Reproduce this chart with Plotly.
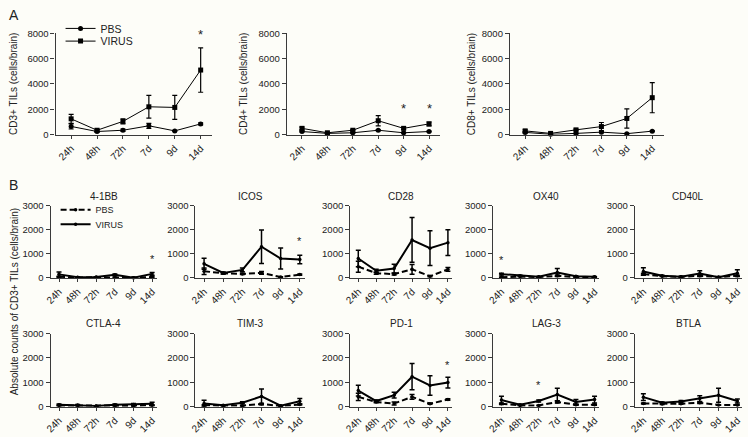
import plotly.graph_objects as go

W, H = 748, 437

times = ["24h", "48h", "72h", "7d", "9d", "14d"]

# ---- Panel A (mean, error) ----
cd3_pbs = [650, 250, 350, 700, 300, 850]
cd3_pbs_err = [200, 50, 100, 200, 50, 80]
cd3_virus = [1250, 350, 1050, 2200, 2150, 5100]
cd3_virus_err = [350, 100, 200, 900, 950, 1750]

cd4_pbs = [250, 100, 150, 350, 150, 250]
cd4_pbs_err = [50, 30, 40, 60, 30, 40]
cd4_virus = [500, 150, 350, 1100, 500, 850]
cd4_virus_err = [100, 50, 50, 400, 80, 150]

cd8_pbs = [180, 30, 100, 200, 80, 280]
cd8_pbs_err = [50, 20, 30, 40, 20, 40]
cd8_virus = [300, 100, 380, 640, 1280, 2920]
cd8_virus_err = [80, 40, 60, 320, 760, 1190]

# ---- Panel B (mean, error) ----
bb41_pbs = [50, 20, 30, 20, 10, 40]
bb41_pbs_err = [20, 10, 10, 10, 5, 20]
bb41_virus = [150, 30, 40, 130, 10, 170]
bb41_virus_err = [100, 15, 15, 40, 10, 60]

icos_pbs = [280, 195, 170, 210, 40, 140]
icos_pbs_err = [140, 30, 30, 60, 10, 30]
icos_virus = [590, 210, 335, 1300, 810, 770]
icos_virus_err = [230, 40, 80, 700, 440, 180]

cd28_pbs = [470, 200, 160, 360, 70, 360]
cd28_pbs_err = [230, 40, 40, 200, 20, 80]
cd28_virus = [810, 300, 390, 1580, 1240, 1470]
cd28_virus_err = [340, 60, 180, 930, 720, 540]

ox40_pbs = [30, 60, 40, 90, 40, 40]
ox40_pbs_err = [10, 10, 10, 30, 10, 10]
ox40_virus = [160, 90, 50, 230, 70, 50]
ox40_virus_err = [40, 20, 10, 160, 20, 10]

cd40l_pbs = [160, 70, 50, 90, 40, 90]
cd40l_pbs_err = [40, 10, 10, 30, 10, 20]
cd40l_virus = [270, 90, 50, 190, 30, 200]
cd40l_virus_err = [160, 20, 10, 110, 10, 140]

ctla4_pbs = [50, 50, 20, 40, 40, 60]
ctla4_pbs_err = [10, 10, 5, 10, 10, 20]
ctla4_virus = [80, 70, 30, 80, 90, 120]
ctla4_virus_err = [30, 20, 10, 30, 40, 60]

tim3_pbs = [60, 40, 40, 110, 30, 90]
tim3_pbs_err = [20, 10, 10, 30, 10, 20]
tim3_virus = [130, 60, 160, 420, 40, 220]
tim3_virus_err = [130, 20, 40, 300, 10, 110]

pd1_pbs = [400, 190, 130, 400, 120, 290]
pd1_pbs_err = [150, 30, 60, 100, 20, 30]
pd1_virus = [660, 230, 470, 1230, 870, 990]
pd1_virus_err = [220, 40, 120, 540, 400, 220]

lag3_pbs = [120, 50, 50, 190, 80, 80]
lag3_pbs_err = [30, 10, 10, 40, 20, 20]
lag3_virus = [270, 80, 230, 500, 190, 290]
lag3_virus_err = [160, 20, 40, 260, 100, 140]

btla_pbs = [130, 110, 120, 160, 70, 70]
btla_pbs_err = [20, 20, 20, 30, 10, 10]
btla_virus = [390, 160, 210, 330, 470, 230]
btla_virus_err = [140, 30, 40, 120, 290, 80]

a_titles = ["CD3+ TILs (cells/brain)", "CD4+ TILs (cells/brain)", "CD8+ TILs (cells/brain)"]
b_titles = ["4-1BB", "ICOS", "CD28", "OX40", "CD40L", "CTLA-4", "TIM-3", "PD-1", "LAG-3", "BTLA"]
a_yticks = [0, 2000, 4000, 6000, 8000]
b_yticks = [0, 1000, 2000, 3000]

# significance stars: (panel index, time, y value)
stars = [(0, "14d", 7900), (1, "9d", 2100), (1, "14d", 2100),
         (3, "14d", 800), (4, "14d", 1540), (6, "24h", 730),
         (10, "14d", 1700), (11, "72h", 870)]

a_data = [(cd3_pbs, cd3_pbs_err, cd3_virus, cd3_virus_err),
          (cd4_pbs, cd4_pbs_err, cd4_virus, cd4_virus_err),
          (cd8_pbs, cd8_pbs_err, cd8_virus, cd8_virus_err)]
b_data = [(bb41_pbs, bb41_pbs_err, bb41_virus, bb41_virus_err),
          (icos_pbs, icos_pbs_err, icos_virus, icos_virus_err),
          (cd28_pbs, cd28_pbs_err, cd28_virus, cd28_virus_err),
          (ox40_pbs, ox40_pbs_err, ox40_virus, ox40_virus_err),
          (cd40l_pbs, cd40l_pbs_err, cd40l_virus, cd40l_virus_err),
          (ctla4_pbs, ctla4_pbs_err, ctla4_virus, ctla4_virus_err),
          (tim3_pbs, tim3_pbs_err, tim3_virus, tim3_virus_err),
          (pd1_pbs, pd1_pbs_err, pd1_virus, pd1_virus_err),
          (lag3_pbs, lag3_pbs_err, lag3_virus, lag3_virus_err),
          (btla_pbs, btla_pbs_err, btla_virus, btla_virus_err)]

# layout geometry (pixels)
a_cols = [(50, 208), (283, 438), (508, 663)]
a_row = (28, 132)
b_cols = [(45, 152), (191, 301), (347, 450), (491, 598), (634, 742)]
b_rows = [(205, 279), (336, 411)]

FONT = "Liberation Sans, Arial, Helvetica, sans-serif"
AX = "#3a3a3a"

fig = go.Figure()
layout = dict(
    width=W, height=H, margin=dict(l=0, r=0, t=0, b=0),
    paper_bgcolor="#fdfdf8", plot_bgcolor="rgba(0,0,0,0)",
    font=dict(family=FONT, color="#222", size=9),
    showlegend=True,
)
annotations = []


def add_axes(i, xpx, ypx, yr, yticks, xrange):
    s = "" if i == 1 else str(i)
    layout["xaxis" + s] = dict(
        domain=[xpx[0] / W, xpx[1] / W], anchor="y" + s, type="category",
        range=xrange, showline=True, linecolor=AX, linewidth=1.2,
        ticks="outside", ticklen=3, tickcolor=AX, tickangle=-45,
        tickfont=dict(size=10, color="#222"), showgrid=False, zeroline=False,
        categoryorder="array", categoryarray=times, fixedrange=True)
    layout["yaxis" + s] = dict(
        domain=[1 - ypx[1] / H, 1 - ypx[0] / H], anchor="x" + s,
        range=yr, tickvals=yticks, showline=True, linecolor=AX, linewidth=1.2,
        ticks="outside", ticklen=4, tickcolor=AX, tickfont=dict(size=9.5, color="#222"),
        showgrid=False, zeroline=False, fixedrange=True)
    return "x" + s, "y" + s


idx = 0
# Panel A
for k, (pbs, pe, vir, ve) in enumerate(a_data):
    idx += 1
    xa, ya = add_axes(idx, a_cols[k], a_row, [0, 8000], a_yticks, [-0.6, 5.45])
    fig.add_trace(go.Scatter(
        x=times, y=pbs, xaxis=xa, yaxis=ya, name="PBS", mode="lines+markers",
        line=dict(color="black", width=1), marker=dict(symbol="circle", size=5, color="black"),
        error_y=dict(type="data", array=pe, color="black", thickness=1.2, width=2.5),
        cliponaxis=False, showlegend=(k == 0), legend="legend"))
    fig.add_trace(go.Scatter(
        x=times, y=vir, xaxis=xa, yaxis=ya, name="VIRUS", mode="lines+markers",
        line=dict(color="black", width=1), marker=dict(symbol="square", size=5, color="black"),
        error_y=dict(type="data", array=ve, color="black", thickness=1.2, width=2.5),
        cliponaxis=False, showlegend=(k == 0), legend="legend3"))
    xc = {0: 8, 1: 240, 2: 470}[k]
    annotations.append(dict(text=a_titles[k], x=xc / W, y=1 - (a_row[0] + a_row[1]) / 2 / H,
                            xref="paper", yref="paper", textangle=-90, showarrow=False,
                            font=dict(size=10, color="#222"), xanchor="center", yanchor="middle"))

# Panel B
for k, (pbs, pe, vir, ve) in enumerate(b_data):
    idx += 1
    r, c = divmod(k, 5)
    xa, ya = add_axes(idx, b_cols[c], b_rows[r], [0, 3000], b_yticks, [-0.45, 5.25])
    fig.add_trace(go.Scatter(
        x=times, y=pbs, xaxis=xa, yaxis=ya, name="PBS", mode="lines+markers",
        line=dict(color="black", width=2, dash="6px,3px"),
        marker=dict(symbol="circle", size=3.5, color="black"),
        error_y=dict(type="data", array=pe, color="black", thickness=1.5, width=2.5),
        cliponaxis=False, showlegend=(k == 0), legend="legend2"))
    fig.add_trace(go.Scatter(
        x=times, y=vir, xaxis=xa, yaxis=ya, name="VIRUS", mode="lines+markers",
        line=dict(color="black", width=2),
        marker=dict(symbol="circle", size=3.5, color="black"),
        error_y=dict(type="data", array=ve, color="black", thickness=1.5, width=2.5),
        cliponaxis=False, showlegend=(k == 0), legend="legend4"))
    xc = (b_cols[c][0] + b_cols[c][1]) / 2
    yt = b_rows[r][0] - 10
    annotations.append(dict(text=b_titles[k], x=xc / W, y=1 - yt / H, xref="paper", yref="paper",
                            showarrow=False, font=dict(size=10, color="#222"),
                            xanchor="center", yanchor="middle"))

# stars
for (p, t, yv) in stars:
    s = "" if p == 0 else str(p + 1)
    annotations.append(dict(text="*", x=times.index(t), y=yv, xref="x" + s, yref="y" + s,
                            showarrow=False, font=dict(size=13 if p < 3 else 11, color="#222"),
                            xanchor="center", yanchor="middle"))

annotations.append(dict(text="Absolute counts of CD3+ TILs (cells/brain)", x=8 / W,
                        y=1 - 303 / H, xref="paper", yref="paper", textangle=-90,
                        showarrow=False, font=dict(size=10, color="#222"),
                        xanchor="center", yanchor="middle"))
annotations.append(dict(text="A", x=8 / W, y=1 - 9 / H, xref="paper", yref="paper",
                        showarrow=False, font=dict(size=14, color="#222"),
                        xanchor="center", yanchor="middle"))
annotations.append(dict(text="B", x=8 / W, y=1 - 184 / H, xref="paper", yref="paper",
                        showarrow=False, font=dict(size=14, color="#222"),
                        xanchor="center", yanchor="middle"))

layout["annotations"] = annotations


def leg(xpx, ypx, size):
    return dict(x=xpx / W, y=1 - ypx / H, xanchor="left", yanchor="middle",
                bgcolor="rgba(0,0,0,0)", font=dict(size=size, color="#222"),
                tracegroupgap=0, itemwidth=30)


layout["legend"] = leg(55, 23, 10.5)
layout["legend3"] = leg(55, 36, 10.5)
layout["legend2"] = leg(50, 209, 9)
layout["legend4"] = leg(50, 224, 9)

fig.update_layout(**layout)
fig.write_html("out.html", config={"displayModeBar": False},
               post_script="document.body.style.margin='0';document.body.style.overflow='hidden';")
